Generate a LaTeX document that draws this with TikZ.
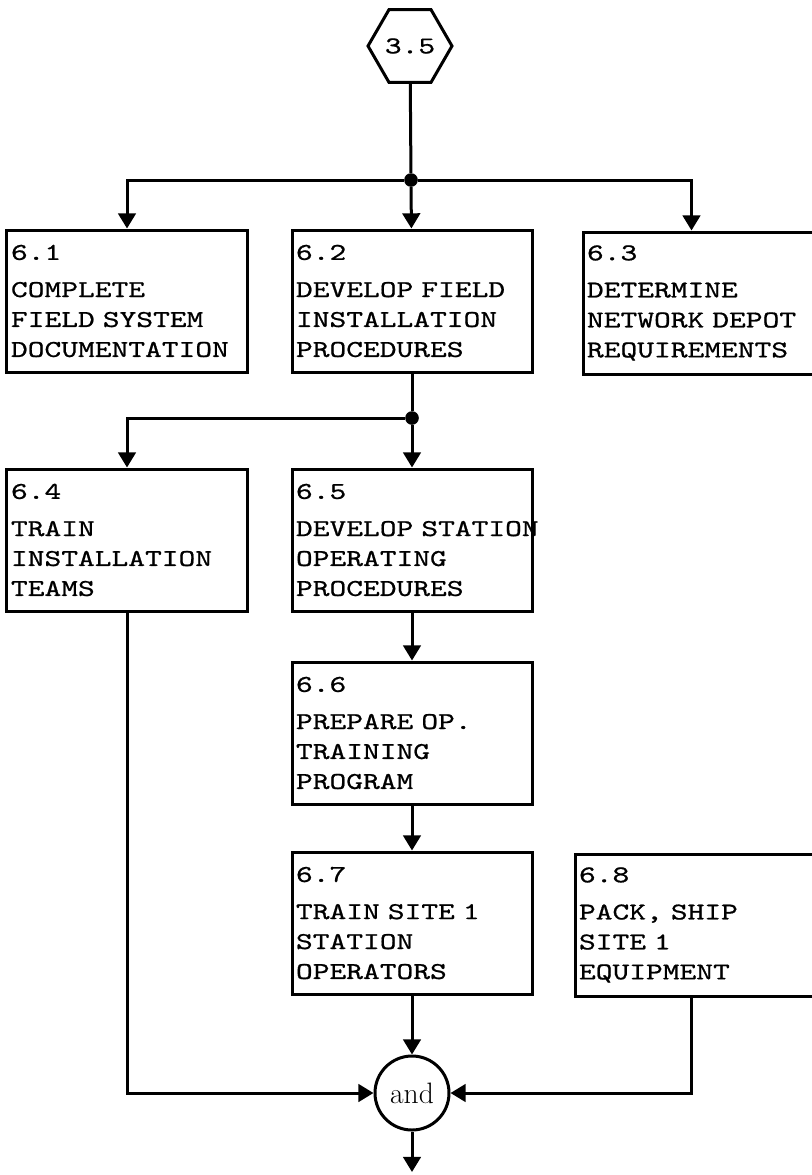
\documentclass[tikz,border=0pt]{standalone}
\usepackage{fontspec}
\newfontfamily\typew[FakeStretch=1.32, FakeBold=0.8]{lmmono10-regular.otf}
\usetikzlibrary{arrows.meta,shapes.geometric,calc}

\begin{document}
\begin{tikzpicture}[
  x=0.25mm, y=-0.25mm,
  task/.style={draw, line width=0.75mm, minimum width=60mm, minimum height=35.5mm,
               text width=58mm, inner xsep=1mm, align=left,
               font=\typew\fontsize{17.2}{21.3}\selectfont},
  hexa/.style={regular polygon, regular polygon sides=6, draw, line width=0.75mm,
               minimum size=21mm, inner sep=0pt,
               font=\typew\fontsize{17.2}{20}\selectfont},
  andgate/.style={circle, draw, line width=0.75mm, minimum size=18.5mm,
                  inner sep=0pt, font=\fontsize{21}{24}\selectfont},
  dot/.style={circle, fill, inner sep=0pt, minimum size=3.4mm},
  arr/.style={-{Triangle[length=3.8mm, width=4.4mm]}, line width=0.75mm},
  ln/.style={line width=0.75mm},
]
\useasboundingbox (0,0) rectangle (812,1175);
\clip (0,0) rectangle (812,1175);

\node[hexa] (h35) at (410,46) {3.5};
\node[dot] (d1) at (411,180) {};

\node[task] (s61) at (127,301)
  {6.1\\[1.8mm]COMPLETE\\FIELD SYSTEM\\DOCUMENTATION};
\node[task] (s62) at (412,301)
  {6.2\\[1.8mm]DEVELOP FIELD\\INSTALLATION\\PROCEDURES};
\node[task] (s63) at (703,303)
  {6.3\\[1.8mm]DETERMINE\\NETWORK DEPOT\\REQUIREMENTS};

\node[dot] (d2) at (412,418) {};

\node[task] (s64) at (127,540)
  {6.4\\[1.8mm]TRAIN\\INSTALLATION\\TEAMS};
\node[task] (s65) at (412,540)
  {6.5\\[1.8mm]\mbox{DEVELOP STATION}\\OPERATING\\PROCEDURES};
\node[task] (s66) at (412,733)
  {6.6\\[1.8mm]PREPARE OP.\\TRAINING\\PROGRAM};
\node[task] (s67) at (412,923)
  {6.7\\[1.8mm]TRAIN SITE 1\\STATION\\OPERATORS};
\node[task] (s68) at (695,925)
  {6.8\\[1.8mm]PACK, SHIP\\SITE 1\\EQUIPMENT};

\node[andgate] (and) at (412,1093) {and};
\coordinate (out) at (412,1172);

% connectors
\draw[ln] (h35) -- (d1);
\draw[arr] (d1) -- (s62);
\draw[arr] (d1) -| (s61.north);
\draw[arr] (d1) -| ($(s63.north west)+(110,0)$);
\draw[ln] (s62) -- (d2);
\draw[arr] (d2) -- (s65);
\draw[arr] (d2) -| (s64.north);
\draw[arr] (s65) -- (s66);
\draw[arr] (s66) -- (s67);
\draw[arr] (s67) -- (and);
\draw[arr] (s64.south) |- (and.west);
\draw[arr] ($(s68.south west)+(118,0)$) |- (and.east);
\draw[arr] (and) -- (out);

\end{tikzpicture}
\end{document}
